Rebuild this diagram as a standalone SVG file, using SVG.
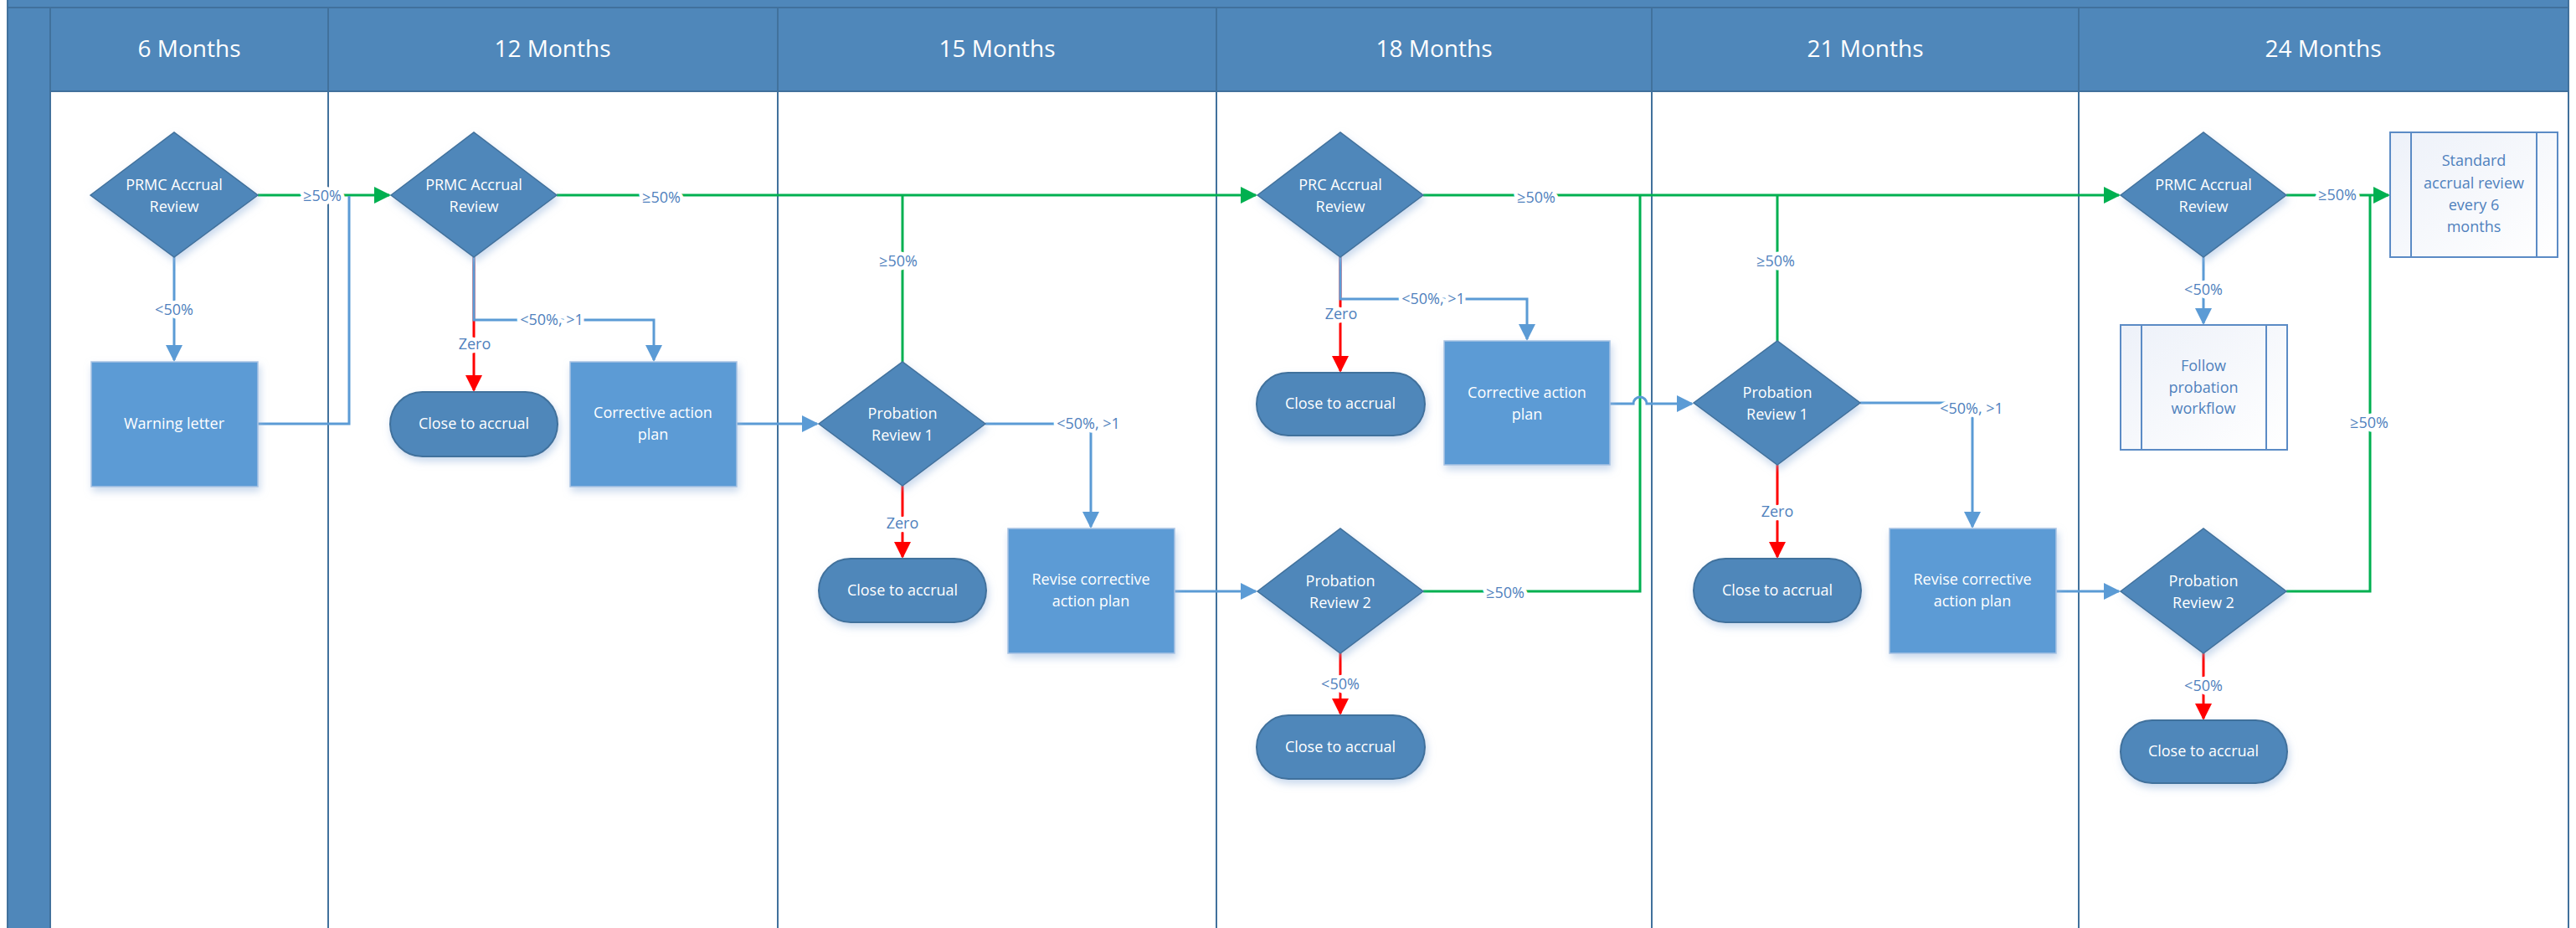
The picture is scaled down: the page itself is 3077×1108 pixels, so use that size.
<svg xmlns="http://www.w3.org/2000/svg" width="3077" height="1108" viewBox="0 0 3077 1108">
<defs>
<style>
.band{fill:#4F87BA;stroke:#41719C;stroke-width:2}
.lane{fill:#FFFFFF;stroke:#41719C;stroke-width:2}
.ht{font-family:"Open Sans",sans-serif;font-size:28px;fill:#FFFFFF;text-anchor:middle}
.dec{fill:#4F87BA;stroke:#41719C;stroke-width:1.5;filter:url(#sh)}
.term{fill:#4F87BA;stroke:#41719C;stroke-width:2;filter:url(#sh)}
.proc{fill:#5B9BD5;stroke:#A9C3E3;stroke-width:1.5;filter:url(#sh)}
.sub{fill:url(#subg);stroke:#5B8BC5;stroke-width:2}
.subl{stroke:#5B8BC5;stroke-width:2}
.nt{font-family:"Open Sans",sans-serif;font-size:18px;fill:#FFFFFF;text-anchor:middle}
.st{font-family:"Open Sans",sans-serif;font-size:18px;fill:#4F81BD;text-anchor:middle}
.cb{fill:none;stroke:#5B9BD5;stroke-width:3}
.cg{fill:none;stroke:#00B050;stroke-width:3}
.cr{fill:none;stroke:#FF0000;stroke-width:3}
.lbl{font-family:"Open Sans",sans-serif;font-size:18px;fill:#4F81BD;text-anchor:middle;stroke:#FFFFFF;stroke-width:9;paint-order:stroke;stroke-linejoin:round}
</style>
<linearGradient id="subg" x1="0" y1="0" x2="1" y2="1">
<stop offset="0" stop-color="#EDF1F9"/>
<stop offset="1" stop-color="#FFFFFF"/>
</linearGradient>
<filter id="sh" x="-20%" y="-20%" width="140%" height="150%">
<feDropShadow dx="2" dy="5" stdDeviation="5" flood-color="#9DB9DE" flood-opacity="0.55"/>
</filter>
<marker id="aB" viewBox="0 0 20 20" refX="18" refY="10" markerWidth="20" markerHeight="20" markerUnits="userSpaceOnUse" orient="auto"><path d="M0,0 L20,10 L0,20 z" fill="#5B9BD5"/></marker>
<marker id="aG" viewBox="0 0 20 20" refX="18" refY="10" markerWidth="20" markerHeight="20" markerUnits="userSpaceOnUse" orient="auto"><path d="M0,0 L20,10 L0,20 z" fill="#00B050"/></marker>
<marker id="aR" viewBox="0 0 20 20" refX="18" refY="10" markerWidth="20" markerHeight="20" markerUnits="userSpaceOnUse" orient="auto"><path d="M0,0 L20,10 L0,20 z" fill="#FF0000"/></marker>
</defs>
<rect x="0" y="0" width="3077" height="1108" fill="#FFFFFF"/>

<g id="pool">
<rect class="band" x="9" y="-2" width="3059" height="11"/>
<rect class="band" x="9" y="9" width="51" height="1101"/>
<rect class="lane" x="60" y="109" width="332" height="1001"/>
<rect class="lane" x="392" y="109" width="537" height="1001"/>
<rect class="lane" x="929" y="109" width="524" height="1001"/>
<rect class="lane" x="1453" y="109" width="520" height="1001"/>
<rect class="lane" x="1973" y="109" width="510" height="1001"/>
<rect class="lane" x="2483" y="109" width="585" height="1001"/>
</g>
<g id="headers">
<g id="h6"><rect class="band" x="60" y="9" width="332" height="100"/><text class="ht" x="226" y="68">6 Months</text></g>
<g id="h12"><rect class="band" x="392" y="9" width="537" height="100"/><text class="ht" x="660" y="68">12 Months</text></g>
<g id="h15"><rect class="band" x="929" y="9" width="524" height="100"/><text class="ht" x="1191" y="68">15 Months</text></g>
<g id="h18"><rect class="band" x="1453" y="9" width="520" height="100"/><text class="ht" x="1713" y="68">18 Months</text></g>
<g id="h21"><rect class="band" x="1973" y="9" width="510" height="100"/><text class="ht" x="2228" y="68">21 Months</text></g>
<g id="h24"><rect class="band" x="2483" y="9" width="585" height="100"/><text class="ht" x="2775" y="68">24 Months</text></g>
</g>

<g id="connectors">
<path class="cg" d="M308,233 H465" marker-end="url(#aG)"/>
<path class="cb" d="M308,506 H417 V234"/>
<path class="cb" d="M208,307 V430" marker-end="url(#aB)"/>
<path class="cg" d="M665,233 H1500" marker-end="url(#aG)"/>
<path class="cr" d="M566,307 V466" marker-end="url(#aR)"/>
<path class="cb" d="M566,307 V382 H781 V430" marker-end="url(#aB)"/>
<path class="cb" d="M880,506 H976" marker-end="url(#aB)"/>
<path class="cg" d="M1078,432 V233"/>
<path class="cb" d="M1177,506 H1303 V629" marker-end="url(#aB)"/>
<path class="cr" d="M1078,580 V665" marker-end="url(#aR)"/>
<path class="cb" d="M1403,706 H1500" marker-end="url(#aB)"/>
<path class="cg" d="M1700,233 H2531" marker-end="url(#aG)"/>
<path class="cr" d="M1601,307 V443" marker-end="url(#aR)"/>
<path class="cb" d="M1601,307 V357 H1824 V405" marker-end="url(#aB)"/>
<path class="cg" d="M1700,706 H1959 V233"/>
<path class="cb" d="M1923,482 H1951 A8,8 0 0 1 1967,482 H2021" marker-end="url(#aB)"/>
<path class="cr" d="M1601,780 V852" marker-end="url(#aR)"/>
<path class="cg" d="M2123,407 V233"/>
<path class="cb" d="M2222,481 H2356 V629" marker-end="url(#aB)"/>
<path class="cr" d="M2123,555 V665" marker-end="url(#aR)"/>
<path class="cb" d="M2456,706 H2531" marker-end="url(#aB)"/>
<path class="cg" d="M2731,233 H2853" marker-end="url(#aG)"/>
<path class="cb" d="M2632,307 V386" marker-end="url(#aB)"/>
<path class="cg" d="M2731,706 H2831 V233"/>
<path class="cr" d="M2632,780 V858" marker-end="url(#aR)"/>
<text class="lbl" x="385" y="240">≥50%</text>
<text class="lbl" x="208" y="376">&lt;50%</text>
<text class="lbl" x="790" y="242">≥50%</text>
<text class="lbl" x="567" y="417">Zero</text>
<text class="lbl" x="659" y="388">&lt;50%, &gt;1</text>
<text class="lbl" x="1073" y="318">≥50%</text>
<text class="lbl" x="1300" y="512">&lt;50%, &gt;1</text>
<text class="lbl" x="1078" y="631">Zero</text>
<text class="lbl" x="1835" y="242">≥50%</text>
<text class="lbl" x="1602" y="381">Zero</text>
<text class="lbl" x="1712" y="363">&lt;50%, &gt;1</text>
<text class="lbl" x="1798" y="714">≥50%</text>
<text class="lbl" x="1601" y="823">&lt;50%</text>
<text class="lbl" x="2121" y="318">≥50%</text>
<text class="lbl" x="2355" y="494">&lt;50%, &gt;1</text>
<text class="lbl" x="2123" y="617">Zero</text>
<text class="lbl" x="2792" y="239">≥50%</text>
<text class="lbl" x="2632" y="352">&lt;50%</text>
<text class="lbl" x="2830" y="511">≥50%</text>
<text class="lbl" x="2632" y="825">&lt;50%</text>
</g>

<g id="n1"><polygon class="dec" points="108,233 208,158 308,233 208,307"/><text class="nt" x="208" y="227">PRMC Accrual<tspan x="208" dy="26">Review</tspan></text></g>
<g id="n2"><rect class="proc" x="109" y="432" width="199" height="149"/><text class="nt" x="208" y="512">Warning letter</text></g>
<g id="n3"><polygon class="dec" points="467,233 566,158 665,233 566,307"/><text class="nt" x="566" y="227">PRMC Accrual<tspan x="566" dy="26">Review</tspan></text></g>
<g id="n4"><rect class="term" x="466" y="468" width="200" height="77" rx="38.5"/><text class="nt" x="566" y="512">Close to accrual</text></g>
<g id="n5"><rect class="proc" x="681" y="432" width="199" height="149"/><text class="nt" x="780" y="499">Corrective action<tspan x="780" dy="26">plan</tspan></text></g>
<g id="n6"><polygon class="dec" points="978,506 1078,432 1177,506 1078,580"/><text class="nt" x="1078" y="500">Probation<tspan x="1078" dy="26">Review 1</tspan></text></g>
<g id="n7"><rect class="term" x="978" y="667" width="200" height="76" rx="38"/><text class="nt" x="1078" y="711">Close to accrual</text></g>
<g id="n8"><rect class="proc" x="1204" y="631" width="199" height="149"/><text class="nt" x="1303" y="698">Revise corrective<tspan x="1303" dy="26">action plan</tspan></text></g>
<g id="n9"><polygon class="dec" points="1502,233 1601,158 1700,233 1601,307"/><text class="nt" x="1601" y="227">PRC Accrual<tspan x="1601" dy="26">Review</tspan></text></g>
<g id="n10"><rect class="term" x="1501" y="445" width="201" height="75" rx="37.5"/><text class="nt" x="1601" y="488">Close to accrual</text></g>
<g id="n11"><rect class="proc" x="1725" y="407" width="198" height="148"/><text class="nt" x="1824" y="475">Corrective action<tspan x="1824" dy="26">plan</tspan></text></g>
<g id="n12"><polygon class="dec" points="1502,706 1601,631 1700,706 1601,780"/><text class="nt" x="1601" y="700">Probation<tspan x="1601" dy="26">Review 2</tspan></text></g>
<g id="n13"><rect class="term" x="1501" y="854" width="201" height="76" rx="38"/><text class="nt" x="1601" y="898">Close to accrual</text></g>
<g id="n14"><polygon class="dec" points="2023,481 2123,407 2222,481 2123,555"/><text class="nt" x="2123" y="475">Probation<tspan x="2123" dy="26">Review 1</tspan></text></g>
<g id="n15"><rect class="term" x="2023" y="667" width="200" height="76" rx="38"/><text class="nt" x="2123" y="711">Close to accrual</text></g>
<g id="n16"><rect class="proc" x="2257" y="631" width="199" height="149"/><text class="nt" x="2356" y="698">Revise corrective<tspan x="2356" dy="26">action plan</tspan></text></g>
<g id="n17"><polygon class="dec" points="2533,233 2632,158 2731,233 2632,307"/><text class="nt" x="2632" y="227">PRMC Accrual<tspan x="2632" dy="26">Review</tspan></text></g>
<g id="n18"><rect class="sub" x="2855" y="158" width="200" height="149"/><line class="subl" x1="2880" y1="158" x2="2880" y2="307"/><line class="subl" x1="3030" y1="158" x2="3030" y2="307"/><text class="st" x="2955" y="198">Standard<tspan x="2955" dy="27">accrual review</tspan><tspan x="2955" dy="26">every 6</tspan><tspan x="2955" dy="26">months</tspan></text></g>
<g id="n19"><rect class="sub" x="2533" y="388" width="199" height="149"/><line class="subl" x1="2558" y1="388" x2="2558" y2="537"/><line class="subl" x1="2707" y1="388" x2="2707" y2="537"/><text class="st" x="2632" y="443">Follow<tspan x="2632" dy="26">probation</tspan><tspan x="2632" dy="25">workflow</tspan></text></g>
<g id="n20"><polygon class="dec" points="2533,706 2632,631 2731,706 2632,780"/><text class="nt" x="2632" y="700">Probation<tspan x="2632" dy="26">Review 2</tspan></text></g>
<g id="n21"><rect class="term" x="2533" y="860" width="199" height="75" rx="37.5"/><text class="nt" x="2632" y="903">Close to accrual</text></g>
</svg>
